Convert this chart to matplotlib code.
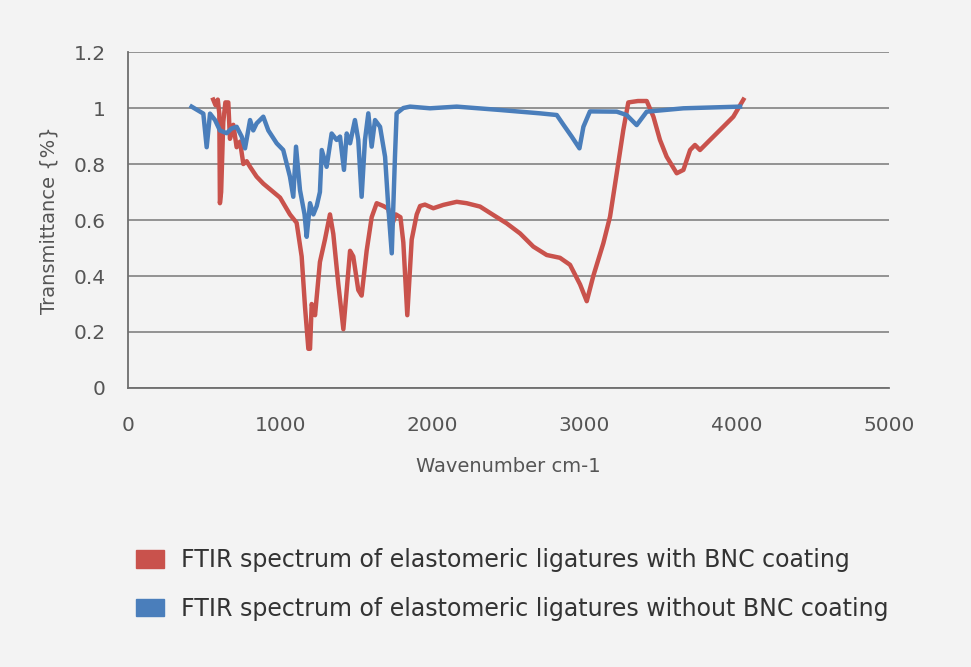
import matplotlib.pyplot as plt
from matplotlib.patches import Patch

# red: with BNC coating
red_x = [560, 575, 590, 600, 604, 612, 626, 640, 659, 670, 692, 714, 736, 758, 780, 802,
         845, 889, 933, 999, 1064, 1108, 1141, 1163, 1185, 1196, 1207, 1229, 1261, 1294,
         1327, 1349, 1382, 1415, 1437, 1459, 1480, 1513, 1535, 1568, 1601, 1634, 1678,
         1710, 1733, 1760, 1790, 1809, 1835, 1864, 1897, 1919, 1951, 2006, 2072, 2160,
         2225, 2313, 2400, 2488, 2576, 2663, 2751, 2838, 2904, 2970, 3014, 3057, 3123,
         3167, 3211, 3254, 3287, 3350, 3408, 3452, 3495, 3539, 3605, 3649, 3693, 3725,
         3758, 3824, 3911, 3977, 4043]
red_y = [1.03, 1.01, 1.03, 0.98, 0.66, 0.70, 0.95, 1.02, 1.02, 0.89, 0.94, 0.86, 0.88,
         0.80, 0.81, 0.79, 0.755, 0.73, 0.71, 0.68, 0.62, 0.59, 0.47, 0.29, 0.14, 0.14,
         0.30, 0.26, 0.45, 0.53, 0.62, 0.55, 0.37, 0.21, 0.35, 0.49, 0.47, 0.35, 0.33,
         0.49, 0.61, 0.66, 0.65, 0.64, 0.58, 0.62, 0.61, 0.52, 0.26, 0.53, 0.62, 0.65,
         0.655, 0.642, 0.654, 0.665, 0.66, 0.648, 0.618, 0.588, 0.552, 0.505, 0.475,
         0.465, 0.44, 0.37, 0.31, 0.40, 0.517, 0.612, 0.767, 0.921, 1.02, 1.025, 1.025,
         0.969, 0.886, 0.826, 0.767, 0.779, 0.85, 0.868, 0.85, 0.886, 0.933, 0.969, 1.03]

# blue: without BNC coating
blue_x = [418, 495, 517, 539, 572, 604, 648, 681, 714, 747, 769, 802, 823, 845, 889, 922,
          977, 1020, 1064, 1086, 1104, 1130, 1160, 1174, 1196, 1218, 1240, 1261, 1273,
          1305, 1338, 1371, 1393, 1419, 1437, 1459, 1491, 1513, 1535, 1557, 1579, 1601,
          1623, 1656, 1689, 1710, 1733, 1754, 1765, 1809, 1853, 1984, 2160, 2444, 2707,
          2817, 2861, 2915, 2966, 2992, 3035, 3211, 3276, 3342, 3408, 3649, 4021]
blue_y = [1.005, 0.98, 0.86, 0.98, 0.957, 0.92, 0.91, 0.927, 0.933, 0.898, 0.856, 0.957,
          0.92, 0.945, 0.969, 0.92, 0.874, 0.85, 0.755, 0.683, 0.862, 0.707, 0.62, 0.54,
          0.66, 0.62, 0.65, 0.70, 0.85, 0.79, 0.909, 0.886, 0.898, 0.779, 0.909, 0.874,
          0.957, 0.886, 0.683, 0.886, 0.981, 0.862, 0.957, 0.933, 0.826, 0.648, 0.481,
          0.826, 0.981, 1.0, 1.005, 0.999, 1.005, 0.993, 0.981, 0.975, 0.94, 0.898,
          0.856, 0.933, 0.988, 0.987, 0.975, 0.939, 0.987, 0.999, 1.005]

labels = ["FTIR spectrum of elastomeric ligatures with BNC coating",
          "FTIR spectrum of elastomeric ligatures without BNC coating"]
red = "#c9524c"
blue = "#4a7ebb"

plt.rcParams['font.family'] = ['DejaVu Sans']

fig = plt.figure(figsize=(9.71, 6.67), dpi=100, facecolor="#f3f3f3")
ax = fig.add_axes([0.1318, 0.4183, 0.7838, 0.5037])
ax.set_facecolor("#f3f3f3")

ax.plot(red_x, red_y, color=red, lw=3.2, solid_joinstyle="round", zorder=3)
ax.plot(blue_x, blue_y, color=blue, lw=3.2, solid_joinstyle="round", zorder=4)

ax.set_xlim(0, 5000)
ax.set_ylim(0, 1.2)
ax.set_xticks([0, 1000, 2000, 3000, 4000, 5000])
ax.set_yticks([0, 0.2, 0.4, 0.6, 0.8, 1.0, 1.2])
ax.set_yticklabels(["0", "0.2", "0.4", "0.6", "0.8", "1", "1.2"])
ax.grid(axis="y", color="#8a8a8a", lw=1.3, zorder=0)
ax.tick_params(length=0, labelsize=14.5, colors="#555555")
ax.tick_params(axis="x", pad=20)
ax.tick_params(axis="y", pad=16)
for s in ["top", "right"]:
    ax.spines[s].set_visible(False)
for s in ["left", "bottom"]:
    ax.spines[s].set_color("#6e6e6e")
    ax.spines[s].set_linewidth(1.3)

ax.set_xlabel("Wavenumber cm-1", fontsize=14, color="#555555", labelpad=16)
ax.set_ylabel("Transmittance {%}", fontsize=14, color="#555555", labelpad=11)

handles = [Patch(color=red), Patch(color=blue)]
fig.legend(handles, labels, loc="upper left", bbox_to_anchor=(0.118, 0.21),
           frameon=False, fontsize=17, handlelength=1.2, handleheight=0.75,
           labelspacing=1.05, handletextpad=0.7, labelcolor="#333333")

fig.savefig("out.png", dpi=100, facecolor=fig.get_facecolor())
